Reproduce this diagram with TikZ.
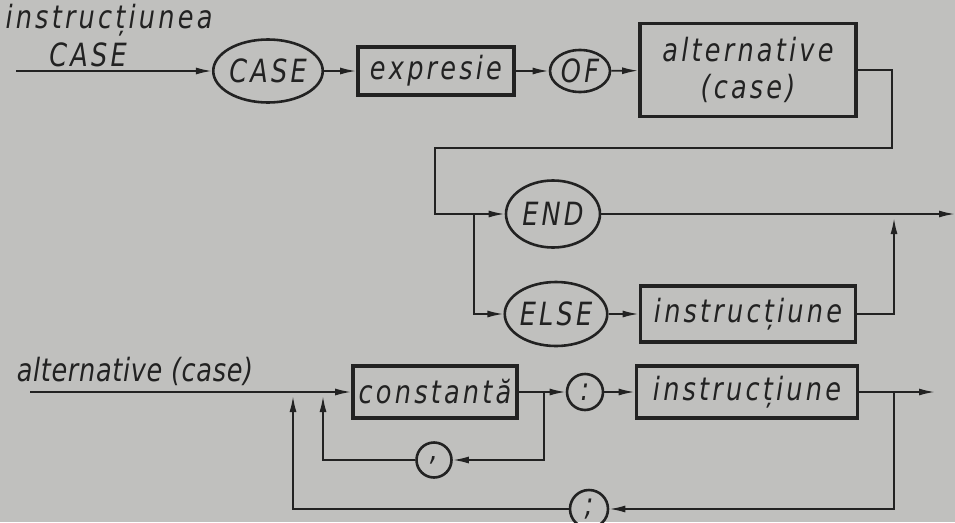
\documentclass[tikz,border=0pt]{standalone}
\usepackage{fontspec}
\newfontfamily\drawfont{DejaVu Sans}[FakeStretch=0.8,LetterSpace=10]
\newfontfamily\labelfont{DejaVu Sans}[FakeStretch=0.8,LetterSpace=2]
\usetikzlibrary{arrows.meta,shapes,positioning,calc}
\definecolor{paper}{RGB}{192,192,190}
\definecolor{ink}{RGB}{34,34,34}

\begin{document}
\begin{tikzpicture}[x=1pt,y=-1pt,
        every node/.style={font=\drawfont\itshape\fontsize{32}{37}\selectfont, text=ink},
        wordbox/.style={draw=ink, line width=3.6pt, rectangle, inner sep=0pt},
        keyoval/.style={draw=ink, line width=2.6pt, ellipse, inner sep=0pt},
        symcirc/.style={draw=ink, line width=2.6pt, circle, inner sep=0pt, minimum size=36pt},
        flow/.style={draw=ink, line width=1.8pt},
        uparrow/.style={->, shorten >=4pt},
        >={Latex[length=16pt,width=7pt]}]
                \clip (0,0) rectangle (955,522);
                \fill[paper] (0,0) rectangle (955,522);

                % instructiunea CASE
                \node (lblinstr) at (109,20) {instrucțiunea};
                \node (lblcase) at (88,55) {CASE};
                \coordinate (start) at (16,71);
                \node[keyoval, minimum width=94pt, minimum height=63pt] (case) at (268,71) {CASE};
                \node[wordbox, minimum width=156pt, minimum height=48pt] (expr) at (436,71) {expresie};
                \node[keyoval, minimum width=60pt, minimum height=42pt] (of) at (580,71) {OF};
                \node[wordbox, minimum width=216pt, minimum height=93pt, align=center] (alt) at (748,70) {alternative\\(case)};
                \node[keyoval, minimum width=94pt, minimum height=67pt] (end) at (553,214) {END};
                \node[keyoval, minimum width=96pt, minimum height=64pt] (else) at (556,314) {ELSE};
                \node[wordbox, minimum width=215pt, minimum height=56pt] (stmtA) at (748,314) {instrucțiune};
                \coordinate (loopR) at (892,148);
                \coordinate (loopL) at (435,148);
                \coordinate (fork) at (474,214);
                \coordinate (join) at (894,214);
                \coordinate (exitA) at (955,214);

                \draw[flow,->] (start) -- (case);
                \draw[flow,->] (case) -- (expr);
                \draw[flow,->] (expr) -- (of);
                \draw[flow,->] (of) -- (alt);
                \draw[flow,->] (alt.east) -| (loopR) -- (loopL) |- (end);
                \draw[flow,->] (fork) |- (else);
                \draw[flow,->] (else) -- (stmtA);
                \draw[flow,uparrow] (stmtA) -| (join);
                \draw[flow,->] (end) -- (exitA);

                % alternative (case)
                \node[font=\labelfont\itshape\fontsize{32}{37}\selectfont] (lblalt) at (135,371) {alternative (case)};
                \coordinate (startB) at (30,392);
                \node[wordbox, minimum width=164pt, minimum height=52pt] (const) at (435,392) {constantă};
                \node[symcirc] (colon) at (585,392) {:};
                \node[wordbox, minimum width=221pt, minimum height=52pt] (stmtB) at (747,392) {instrucțiune};
                \node[symcirc, minimum size=35pt] (comma) at (434,460) {,};
                \node[symcirc, minimum size=38pt] (semi) at (589,509) {;};
                \coordinate (outerUp) at (293,392);
                \coordinate (innerUp) at (323,392);
                \coordinate (commaFork) at (544,392);
                \coordinate (semiFork) at (894,392);
                \coordinate (exitB) at (935,392);

                \draw[flow,->] (startB) -- (const);
                \draw[flow,->] (const) -- (colon);
                \draw[flow,->] (colon) -- (stmtB);
                \draw[flow,->] (stmtB) -- (exitB);
                \draw[flow,->] (commaFork) |- (comma);
                \draw[flow,uparrow] (comma) -| (innerUp);
                \draw[flow,->] (semiFork) |- (semi);
                \draw[flow,uparrow] (semi) -| (outerUp);
            \end{tikzpicture}
\end{document}
